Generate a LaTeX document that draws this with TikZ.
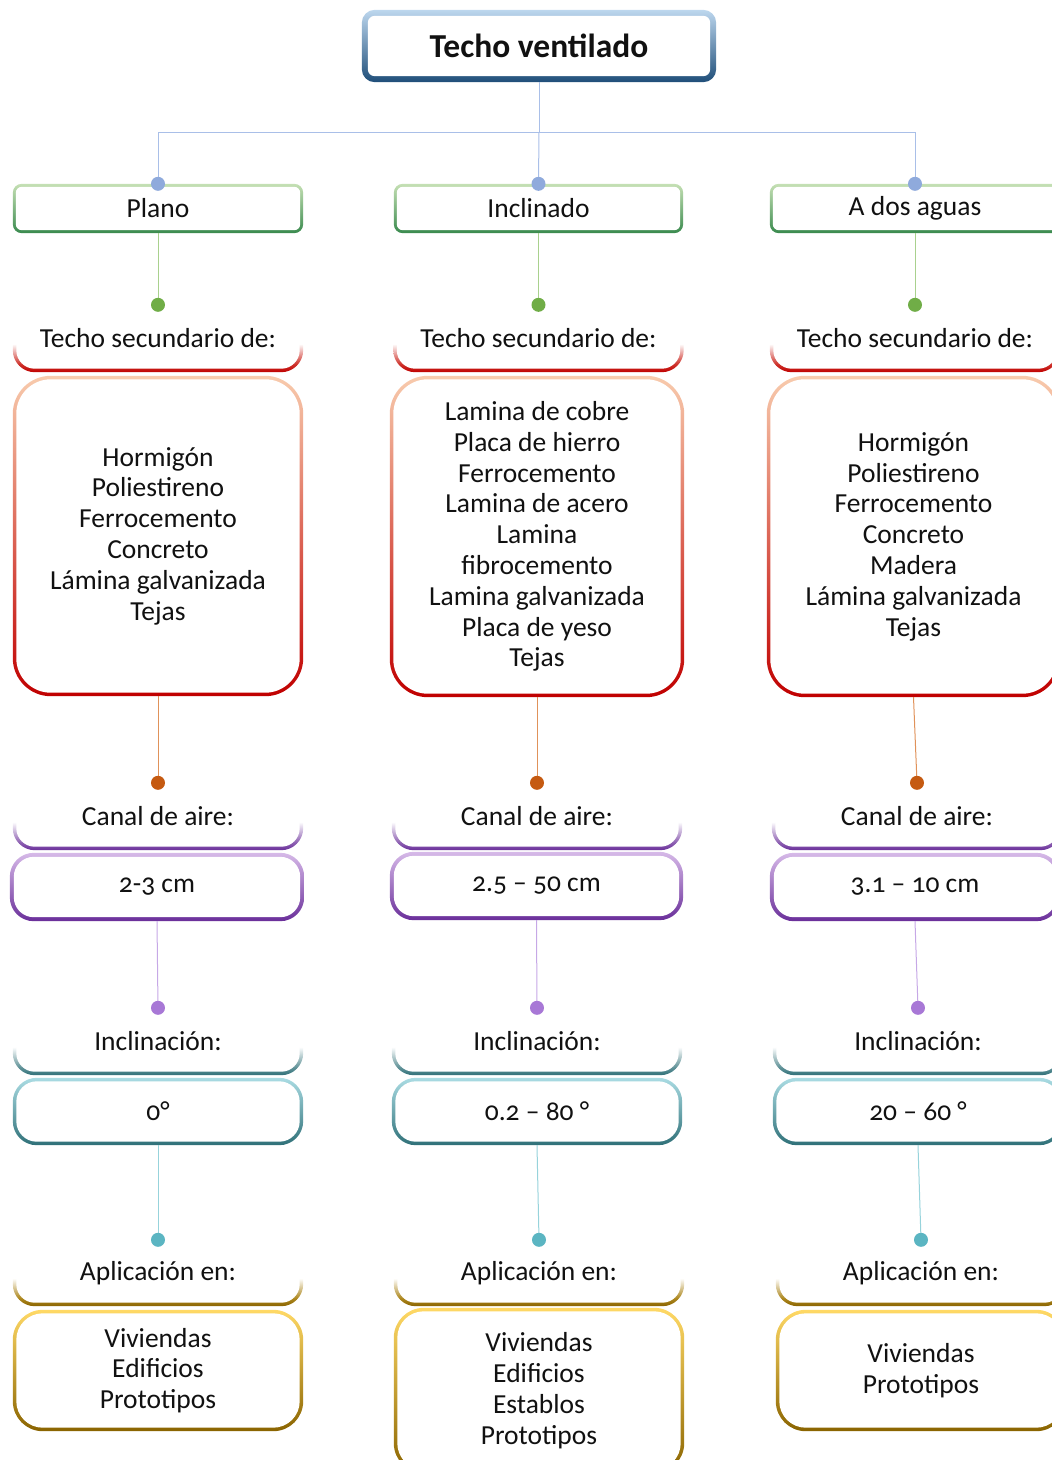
\documentclass[tikz,border=0pt]{standalone}
\usepackage{fontspec}
\setmainfont{Carlito}[Numbers=OldStyle]
\usetikzlibrary{backgrounds}

\definecolor{blueA}{HTML}{BDD7EE}\definecolor{blueM}{HTML}{3C79B8}\definecolor{blueB}{HTML}{1F4E79}
\definecolor{greenA}{HTML}{C5E0B4}\definecolor{greenM}{HTML}{7DB97E}\definecolor{greenB}{HTML}{3A8A4E}
\definecolor{peachA}{HTML}{F8CBAD}\definecolor{peachM}{HTML}{EA9670}\definecolor{redB}{HTML}{C00000}
\definecolor{lilacA}{HTML}{D6B9E8}\definecolor{lilacM}{HTML}{A779CF}\definecolor{purpB}{HTML}{6A2F9A}
\definecolor{tealA}{HTML}{AADCE3}\definecolor{tealM}{HTML}{6DB3BC}\definecolor{tealB}{HTML}{2F7078}
\definecolor{goldA}{HTML}{FFD966}\definecolor{goldM}{HTML}{D9A924}\definecolor{goldB}{HTML}{8A6400}
\definecolor{dotblue}{HTML}{8FAADC}\definecolor{lnblue}{HTML}{A9BFE8}
\definecolor{dotgreen}{HTML}{70AD47}\definecolor{lngreen}{HTML}{A9D18E}
\definecolor{dotorange}{HTML}{C55A11}\definecolor{lnorange}{HTML}{E0925A}
\definecolor{dotpurple}{HTML}{A878D6}\definecolor{lnpurple}{HTML}{C6A8E6}
\definecolor{dotteal}{HTML}{5BB5C2}\definecolor{lnteal}{HTML}{97D3DB}
\definecolor{ink}{HTML}{111111}

% heading shadings: solid at the bottom edge, white from about 40% of the height up
\pgfdeclareverticalshading{hdred}{100bp}{color(0bp)=(redB); color(25bp)=(redB); color(31bp)=(redB!75!peachA); color(46bp)=(white); color(100bp)=(white)}
\pgfdeclareverticalshading{hdpurple}{100bp}{color(0bp)=(purpB); color(25bp)=(purpB); color(31bp)=(purpB!75!white); color(46bp)=(white); color(100bp)=(white)}
\pgfdeclareverticalshading{hdteal}{100bp}{color(0bp)=(tealB); color(25bp)=(tealB); color(31bp)=(tealB!75!white); color(46bp)=(white); color(100bp)=(white)}
\pgfdeclareverticalshading{hdgold}{100bp}{color(0bp)=(goldB); color(25bp)=(goldB); color(31bp)=(goldB!70!goldA); color(46bp)=(white); color(100bp)=(white)}

% gradient frame: name, top, middle, bottom colour, thickness, radius
\newcommand\gframe[6]{%
  \shade[top color=#2,middle color=#3,bottom color=#4,rounded corners=#6pt]
    (#1.south west) rectangle (#1.north east);
  \fill[white,rounded corners=#6pt-#5pt]
    ([shift={(#5pt,#5pt)}]#1.south west) rectangle ([shift={(-#5pt,-#5pt)}]#1.north east);
}
% heading frame: only the lower edge shows, fading out towards the top
\newcommand\hframe[2]{%
  \shade[shading=#2,rounded corners=22pt] (#1.south west) rectangle (#1.north east);
  \fill[white,rounded corners=18.5pt]
    ([shift={(3.5pt,3.5pt)}]#1.south west) rectangle ([shift={(-3.5pt,-3.5pt)}]#1.north east);
}

\tikzset{
  txt/.style={font=\fontsize{27.5}{30.8}\selectfont, text=ink, align=center, inner sep=0pt},
  sz/.style 2 args={minimum width=#1pt, minimum height=#2pt},
  dot/.style={circle, fill=#1, minimum size=14pt, inner sep=0pt},
  cn/.style={draw=#1, line width=1pt},
}

\begin{document}
\begin{tikzpicture}[x=1pt,y=-1pt]
\useasboundingbox (0,0) rectangle (1052,1460);

% root
\node[txt,sz={354}{72},font=\fontsize{33.5}{38}\bfseries] (root) at (539,46) {Techo ventilado};

% first level
\node[txt,sz={290}{49}] (plano) at (158,208.5) {Plano};
\node[txt,sz={289}{49}] (incl) at (538.5,208.5) {Inclinado};
\node[txt,sz={290}{49}] (aguas) at (915,208.5) {A dos aguas};

% secondary roof
\node[txt,sz={290}{67}] (tsP) at (158,338.5) {Techo secundario de:};
\node[txt,sz={290}{67}] (tsI) at (538.5,338.5) {Techo secundario de:};
\node[txt,sz={290}{67}] (tsA) at (915,338.5) {Techo secundario de:};

\node[txt,sz={290}{320}] (matP) at (158,536) {Hormigón\\Poliestireno\\Ferrocemento\\Concreto\\Lámina galvanizada\\Tejas};
\node[txt,sz={294}{321}] (matI) at (537,536.5) {Lamina de cobre\\Placa de hierro\\Ferrocemento\\Lamina de acero\\Lamina\\fibrocemento\\Lamina galvanizada\\Placa de yeso\\Tejas};
\node[txt,sz={293}{321}] (matA) at (913.5,536.5) {Hormigón\\Poliestireno\\Ferrocemento\\Concreto\\Madera\\Lámina galvanizada\\Tejas};

% air channel
\node[txt,sz={290}{67}] (caP) at (158,816.5) {Canal de aire:};
\node[txt,sz={290}{67}] (caI) at (537,816.5) {Canal de aire:};
\node[txt,sz={290}{67}] (caA) at (917,816.5) {Canal de aire:};

\node[txt,sz={294}{68}] (cvP) at (157,887) {2-3 cm};
\node[txt,sz={293}{68}] (cvI) at (536.5,886) {2.5 – 50 cm};
\node[txt,sz={290}{68}] (cvA) at (915,887) {3.1 – 10 cm};

% slope
\node[txt,sz={290}{67}] (inP) at (158,1041.5) {Inclinación:};
\node[txt,sz={290}{67}] (inI) at (537,1041.5) {Inclinación:};
\node[txt,sz={290}{67}] (inA) at (918,1041.5) {Inclinación:};

\node[txt,sz={290}{67}] (ivP) at (158,1111.5) {0°};
\node[txt,sz={290}{67}] (ivI) at (537,1111.5) {0.2 – 80 °};
\node[txt,sz={290}{67}] (ivA) at (918,1111.5) {20 – 60 °};

% application
\node[txt,sz={290}{66}] (apP) at (158,1273) {Aplicación en:};
\node[txt,sz={290}{66}] (apI) at (539,1273) {Aplicación en:};
\node[txt,sz={290}{66}] (apA) at (921,1273) {Aplicación en:};

\node[txt,sz={290}{121}] (avP) at (158,1370.5) {Viviendas\\Edificios\\Prototipos};
\node[txt,sz={290}{165}] (avI) at (539,1390.5) {Viviendas\\Edificios\\Establos\\Prototipos};
\node[txt,sz={290}{121}] (avA) at (921,1370.5) {Viviendas\\Prototipos};

% junction dots
\coordinate (hub) at (539,132);
\foreach \n/\c in {plano/dotblue,incl/dotblue,aguas/dotblue,
                   tsP/dotgreen,tsI/dotgreen,tsA/dotgreen,
                   caP/dotorange,caI/dotorange,caA/dotorange,
                   inP/dotpurple,inI/dotpurple,inA/dotpurple,
                   apP/dotteal,apI/dotteal,apA/dotteal}
  \node[dot=\c] (d\n) at (\n.north) {};

\begin{scope}[on background layer]
  \gframe{root}{blueA}{blueM}{blueB}{6}{13}
  \foreach \n in {plano,incl,aguas} {\gframe{\n}{greenA}{greenM}{greenB}{3}{9}}
  \foreach \n in {tsP,tsI,tsA} {\hframe{\n}{hdred}}
  \foreach \n in {matP,matI,matA} {\gframe{\n}{peachA}{peachM}{redB}{3.5}{38}}
  \foreach \n in {caP,caI,caA} {\hframe{\n}{hdpurple}}
  \foreach \n in {cvP,cvI,cvA} {\gframe{\n}{lilacA}{lilacM}{purpB}{4}{24}}
  \foreach \n in {inP,inI,inA} {\hframe{\n}{hdteal}}
  \foreach \n in {ivP,ivI,ivA} {\gframe{\n}{tealA}{tealM}{tealB}{3.5}{24}}
  \foreach \n in {apP,apI,apA} {\hframe{\n}{hdgold}}
  \foreach \n in {avP,avI,avA} {\gframe{\n}{goldA}{goldM}{goldB}{3.5}{30}}

  % connectors
  \draw[cn=lnblue] (root.south) -- (hub);
  \draw[cn=lnblue] (hub) -| (dplano.center);
  \draw[cn=lnblue] (hub) -| (daguas.center);
  \draw[cn=lnblue] (hub) -- (dincl.center);
  \draw[cn=lngreen] (plano.south) -- (dtsP.center);
  \draw[cn=lngreen] (incl.south) -- (dtsI.center);
  \draw[cn=lngreen] (aguas.south) -- (dtsA.center);
  \draw[cn=lnorange] (matP.south) -- (dcaP.center);
  \draw[cn=lnorange] (matI.south) -- (dcaI.center);
  \draw[cn=lnorange] (matA.south) -- (dcaA.center);
  \draw[cn=lnpurple] (cvP.south) -- (dinP.center);
  \draw[cn=lnpurple] (cvI.south) -- (dinI.center);
  \draw[cn=lnpurple] (cvA.south) -- (dinA.center);
  \draw[cn=lnteal] (ivP.south) -- (dapP.center);
  \draw[cn=lnteal] (ivI.south) -- (dapI.center);
  \draw[cn=lnteal] (ivA.south) -- (dapA.center);
\end{scope}
\end{tikzpicture}
\end{document}
